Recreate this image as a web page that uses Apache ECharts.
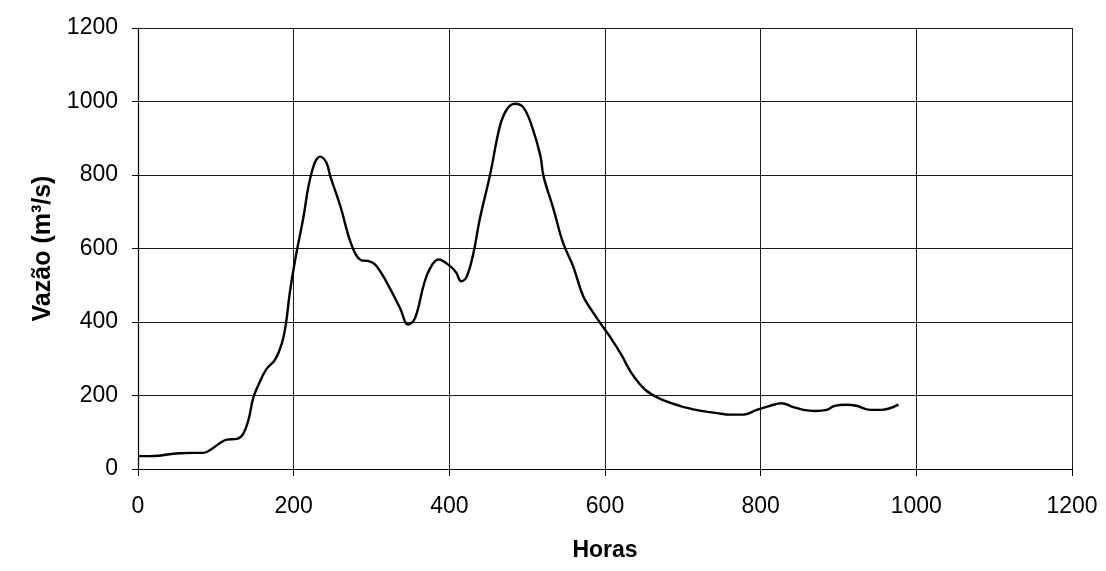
<!DOCTYPE html>
<html>
<head>
<meta charset="utf-8">
<script src="https://cdn.jsdelivr.net/npm/echarts@6/dist/echarts.min.js"></script>
<style>
  html, body { margin: 0; padding: 0; background: #fff; }
  #chart { width: 1106px; height: 571px; }
</style>
</head>
<body>
<div id="chart"></div>
<script>
// Hydrograph: discharge (m³/s) over time (hours)
const horas = [
  0, 13, 26, 40, 54, 70, 84, 95, 105, 114, 127, 135, 142, 148, 155, 165, 176, 185,
  190, 195, 202, 212, 223, 234, 242, 247, 260, 275, 287, 296, 305, 320, 337, 347,
  356, 367, 375, 386, 401, 409, 415, 422, 431, 439, 452, 465, 474, 484, 495, 506,
  517, 521, 534, 546, 559, 572, 585, 598, 608, 621, 634, 651, 669, 696, 722, 744,
  761, 778, 795, 812, 827, 840, 855, 870, 885, 895, 910, 923, 941, 955, 977
];
const vazao = [
  35, 35, 36, 40, 43, 44, 44, 55, 70, 80, 82, 95, 134, 193, 230, 272, 297, 343,
  395, 479, 570, 679, 806, 850, 834, 797, 715, 606, 568, 566, 556, 506, 436, 393,
  411, 500, 545, 570, 552, 534, 511, 522, 588, 679, 797, 933, 979, 994, 984, 933,
  852, 797, 706, 616, 552, 470, 425, 385, 355, 311, 261, 217, 193, 172, 159, 152,
  148, 148, 161, 172, 179, 170, 161, 158, 161, 172, 175, 172, 161, 161, 175
];
const xTicks = { min: 0, max: 1200, interval: 200 };
const yTicks = { min: 0, max: 1200, interval: 200 };

const pontos = horas.map((h, i) => [h, vazao[i]]);

const fontFamily = '"Liberation Sans", Arial, Helvetica, sans-serif';
const gridLine = { show: true, lineStyle: { color: '#1a1a1a', width: 1 } };
const axisLine = { show: true, lineStyle: { color: '#000', width: 1.2 } };
const plainNumber = v => String(v);

const chart = echarts.init(document.getElementById('chart'), null, { renderer: 'canvas' });
chart.setOption({
  animation: false,
  backgroundColor: '#fff',
  grid: { left: 138, right: 34, top: 28, bottom: 102 },
  xAxis: {
    type: 'value',
    min: xTicks.min, max: xTicks.max, interval: xTicks.interval,
    name: 'Horas',
    nameLocation: 'middle',
    nameGap: 70,
    nameTextStyle: { fontFamily, fontSize: 23, fontWeight: 'bold', color: '#000' },
    axisLine,
    axisTick: { show: true, inside: false, length: 7, lineStyle: { color: '#000' } },
    axisLabel: { fontFamily, fontSize: 23, color: '#000', margin: 26, formatter: plainNumber },
    splitLine: gridLine
  },
  yAxis: {
    type: 'value',
    min: yTicks.min, max: yTicks.max, interval: yTicks.interval,
    name: 'Vazão (m³/s)',
    nameLocation: 'middle',
    nameGap: 82,
    nameRotate: 90,
    nameTextStyle: { fontFamily, fontSize: 25, fontWeight: 'bold', color: '#000' },
    axisLine,
    axisTick: { show: true, inside: false, length: 6, lineStyle: { color: '#000' } },
    axisLabel: { fontFamily, fontSize: 23, color: '#000', margin: 20, formatter: plainNumber },
    splitLine: gridLine
  },
  series: [{
    type: 'line',
    data: pontos,
    smooth: 0.4,
    showSymbol: false,
    lineStyle: { color: '#000', width: 2.4 },
    z: 5
  }]
});
</script>
</body>
</html>
